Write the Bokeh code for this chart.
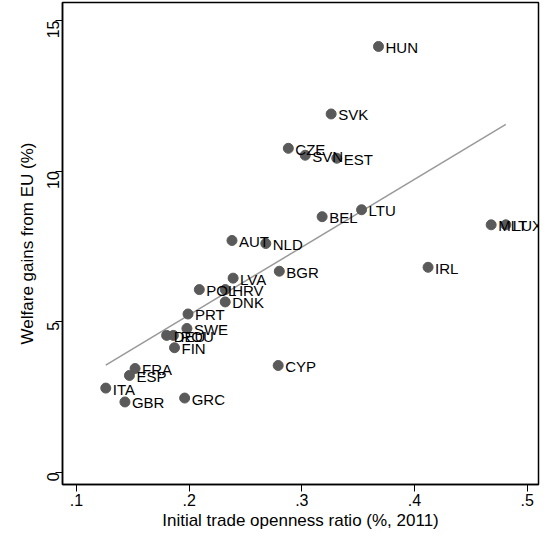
import numpy as np
from bokeh.plotting import figure
from bokeh.models import ColumnDataSource, FixedTicker, Range1d
from bokeh.embed import file_html
from bokeh.resources import INLINE
from bokeh.core.properties import value

countries = ["HUN", "SVK", "CZE", "SVN", "EST", "BEL", "LTU", "MLT", "LUX", "IRL",
             "AUT", "NLD", "BGR", "LVA", "POL", "HRV", "DNK", "PRT", "SWE", "DEU",
             "ROU", "FIN", "FRA", "ESP", "ITA", "GBR", "GRC", "CYP"]
openness = [0.368, 0.326, 0.288, 0.303, 0.331, 0.318, 0.353, 0.468, 0.481, 0.412,
            0.238, 0.268, 0.280, 0.239, 0.209, 0.232, 0.232, 0.199, 0.198, 0.180,
            0.186, 0.187, 0.152, 0.147, 0.126, 0.143, 0.196, 0.279]
gains = [14.14, 11.9, 10.76, 10.53, 10.43, 8.49, 8.72, 8.22, 8.22, 6.81,
         7.7, 7.6, 6.68, 6.45, 6.07, 6.07, 5.66, 5.26, 4.78, 4.55,
         4.55, 4.14, 3.45, 3.22, 2.8, 2.34, 2.47, 3.55]

src = ColumnDataSource(dict(x=openness, y=gains, lab=countries))

p = figure(width=540, height=532, output_backend="svg", toolbar_location=None,
           x_range=Range1d(0.0876, 0.51), y_range=Range1d(-0.4, 15.6),
           background_fill_color="white", border_fill_color="white",
           min_border_left=62, min_border_bottom=40, min_border_top=2, min_border_right=2)

xs = np.array(openness)
b, a = np.polyfit(xs, np.array(gains), 1)
fx = np.array([xs.min(), xs.max()])
p.line(fx, a + b * fx, line_color="#999999", line_width=1.5)

p.scatter("x", "y", source=src, size=10, fill_color="#5a5a5a", line_color="#5a5a5a")
p.text("x", "y", text="lab", source=src, x_offset=7, y_offset=1,
       text_font=value("Liberation Sans"), text_font_size="15px",
       text_baseline="middle", text_color="black")

p.xgrid.grid_line_color = None
p.ygrid.grid_line_color = None
p.outline_line_color = "black"
p.outline_line_width = 1.5

p.xaxis.ticker = FixedTicker(ticks=[0.1, 0.2, 0.3, 0.4, 0.5])
p.xaxis.major_label_overrides = {0.1: ".1", 0.2: ".2", 0.3: ".3", 0.4: ".4", 0.5: ".5"}
p.yaxis.ticker = FixedTicker(ticks=[0, 5, 10, 15])
p.yaxis.major_label_orientation = np.pi / 2
p.xaxis.axis_label = "Initial trade openness ratio (%, 2011)"
p.yaxis.axis_label = "Welfare gains from EU (%)"
for ax in (p.xaxis[0], p.yaxis[0]):
    ax.axis_label_text_font = "Liberation Sans"
    ax.axis_label_text_font_style = "normal"
    ax.axis_label_text_font_size = "17px"
    ax.axis_label_text_color = "black"
    ax.axis_label_standoff = 2
    ax.major_label_standoff = 2
    ax.major_label_text_font = "Liberation Sans"
    ax.major_label_text_font_size = "16px"
    ax.major_label_text_color = "black"
    ax.minor_tick_line_color = None
    ax.major_tick_out = 7
    ax.major_tick_in = 0
    ax.axis_line_width = 1.5
    ax.axis_line_color = "black"
    ax.major_tick_line_color = "black"

open("out.html", "w").write(file_html(p, INLINE))
